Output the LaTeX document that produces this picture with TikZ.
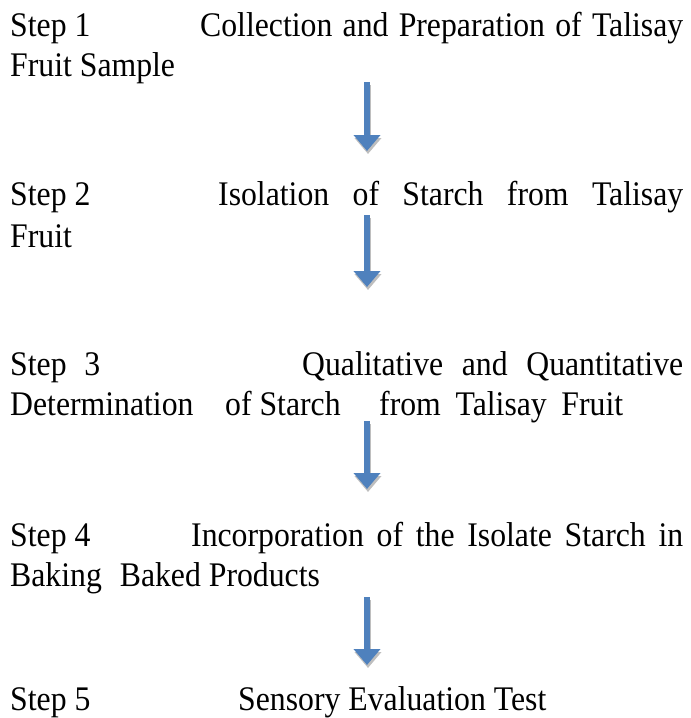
\documentclass[tikz,border=0pt]{standalone}
\usepackage{fontspec}
\setmainfont[FakeStretch=0.92]{Liberation Serif}
\usetikzlibrary{arrows.meta}
\definecolor{arrowblue}{RGB}{79,129,189}
\definecolor{shadowgray}{RGB}{190,190,190}

\begin{document}
\begin{tikzpicture}[x=1pt,y=-1pt,
	txt/.style={anchor=base west,inner sep=0pt,font=\fontsize{34.5}{40}\selectfont},
	flow/.style={line width=6pt,arrowblue,-{Triangle[width=26pt,length=16pt]}},
	flowshadow/.style={flow,shadowgray}]
	\useasboundingbox (0,0) rectangle (691,718);
	\node[txt] (s1) at (10,36) {Step 1};
	\node[txt] (t1) at (200,36) {\makebox[483pt][s]{Collection and Preparation of Talisay}};
	\node[txt] (u1) at (10,76) {Fruit Sample};
	\node[txt] (s2) at (10,205) {Step 2};
	\node[txt] (t2) at (218,205) {\makebox[465pt][s]{Isolation of Starch from Talisay}};
	\node[txt] (u2) at (10,247) {Fruit};
	\node[txt] (s3) at (10,375) {\makebox[90pt][s]{Step 3}};
	\node[txt] (t3) at (302,375) {\makebox[381pt][s]{Qualitative and Quantitative}};
	\node[txt] (u3) at (10,415) {Determination};
	\node[txt] (v3) at (225,415) {of Starch};
	\node[txt] (w3) at (379,415) {\makebox[244pt][s]{from Talisay Fruit}};
	\node[txt] (s4) at (10,546) {Step 4};
	\node[txt] (t4) at (191,546) {\makebox[492pt][s]{Incorporation of the Isolate Starch in}};
	\node[txt] (u4) at (10,586) {Baking\hspace{10pt} Baked Products};
	\node[txt] (s5) at (10,710) {Step 5};
	\node[txt] (t5) at (238,710) {Sensory Evaluation Test};
	\foreach \i/\ys/\ye in {1/82/151,2/215/287,3/421/489,4/597/665}{
		\coordinate (a\i) at (367,\ys);
		\coordinate (b\i) at (367,\ye);
		\draw[flowshadow] ([shift={(1,3)}]a\i) -- ([shift={(1,3)}]b\i);
		\draw[flow] (a\i) -- (b\i);
	}
\end{tikzpicture}
\end{document}
